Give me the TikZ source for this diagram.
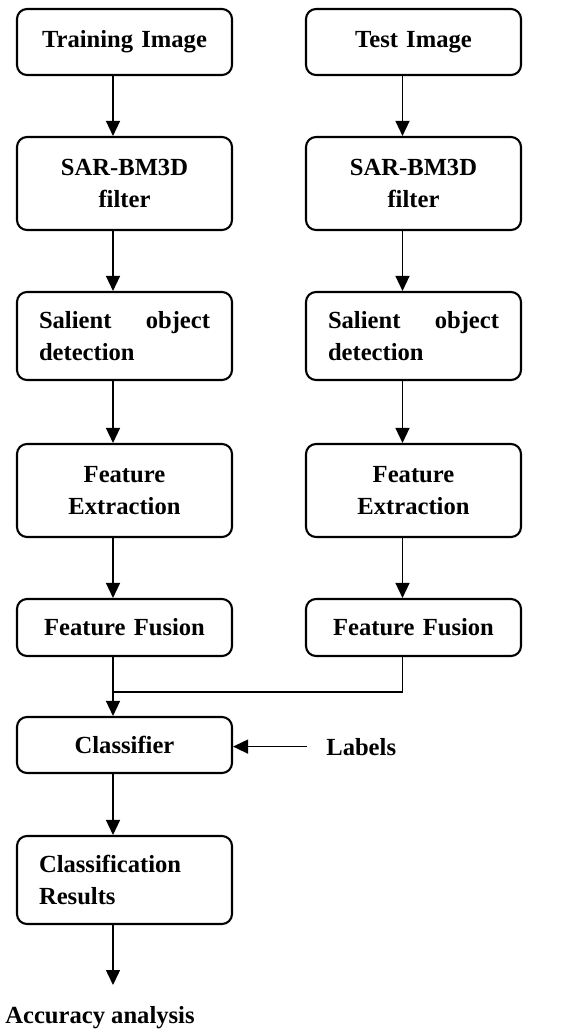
\documentclass[tikz,border=0pt]{standalone}
\usepackage{fontspec}
\setmainfont{Liberation Serif}
\usetikzlibrary{arrows.meta}

\tikzset{
    stage/.style={draw, rounded corners=0.2cm, line width=1.2pt, text width=3.42cm,
        inner xsep=0.44cm, inner ysep=0pt, align=center,
        font=\fontsize{14}{18}\selectfont\bfseries},
    note/.style={anchor=base west, inner ysep=0pt, font=\fontsize{14}{18}\selectfont\bfseries},
    flow/.style={line width=0.8pt, -{Triangle[length=0.3cm,width=0.28cm]}},
}

\begin{document}
\begin{tikzpicture}
    \useasboundingbox (0,0) rectangle (11.28,-20.58);

    \coordinate (lx) at (2.26,0);
    \coordinate (rx) at (8.05,0);

    \node[stage, minimum height=1.32cm] (trn) at (2.49,-0.84) {Training Image};
    \node[stage, minimum height=1.32cm] (tst) at (8.27,-0.84) {Test Image};
    \node[stage, minimum height=1.86cm] (sarL) at (2.49,-3.67) {SAR-BM3D\\filter};
    \node[stage, minimum height=1.86cm] (sarR) at (8.27,-3.67) {SAR-BM3D\\filter};
    \node[stage, minimum height=1.76cm, align=left] (salL) at (2.49,-6.72) {Salient\hfill object\\detection};
    \node[stage, minimum height=1.76cm, align=left] (salR) at (8.27,-6.72) {Salient\hfill object\\detection};
    \node[stage, minimum height=1.86cm] (extL) at (2.49,-9.81) {Feature\\Extraction};
    \node[stage, minimum height=1.86cm] (extR) at (8.27,-9.81) {Feature\\Extraction};
    \node[stage, minimum height=1.14cm] (fusL) at (2.49,-12.55) {Feature Fusion};
    \node[stage, minimum height=1.14cm] (fusR) at (8.27,-12.55) {Feature Fusion};
    \node[stage, minimum height=1.12cm] (cls) at (2.49,-14.9) {Classifier};
    \node[stage, minimum height=1.76cm, align=left] (res) at (2.49,-17.6) {Classification\\Results};

    \node[note, inner xsep=0.38cm] (lab) at (6.14,-15.1) {Labels};
    \node[note, inner xsep=0pt] (acc) at (0.1,-20.46) {Accuracy analysis};

    \coordinate (mrg) at (2.26,-13.84);
    \coordinate (accin) at (2.26,-19.7);

    \draw[flow] (trn.south -| lx) -- (sarL.north -| lx);
    \draw[flow] (sarL.south -| lx) -- (salL.north -| lx);
    \draw[flow] (salL.south -| lx) -- (extL.north -| lx);
    \draw[flow] (extL.south -| lx) -- (fusL.north -| lx);
    \draw[flow] (tst.south -| rx) -- (sarR.north -| rx);
    \draw[flow] (sarR.south -| rx) -- (salR.north -| rx);
    \draw[flow] (salR.south -| rx) -- (extR.north -| rx);
    \draw[flow] (extR.south -| rx) -- (fusR.north -| rx);

    \draw[line width=0.8pt] (fusR.south -| rx) |- (mrg);
    \draw[flow] (fusL.south -| lx) -- (cls.north -| lx);
    \draw[flow] (lab.west) -- (lab.west -| cls.east);
    \draw[flow] (cls.south -| lx) -- (res.north -| lx);
    \draw[flow] (res.south -| lx) -- (accin);
\end{tikzpicture}
\end{document}
